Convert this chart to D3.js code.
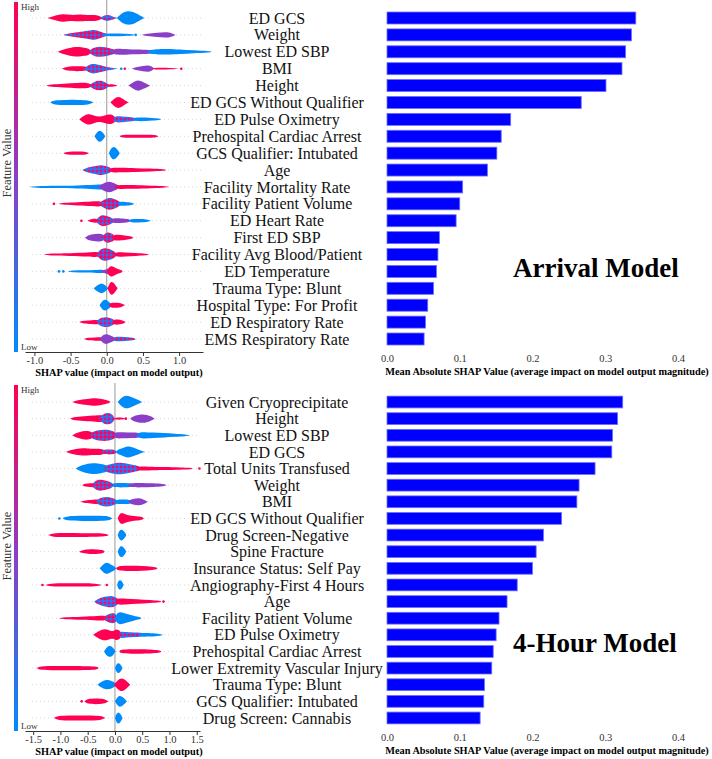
<!DOCTYPE html>
<html>
<head>
<meta charset="utf-8">
<script src="https://cdn.jsdelivr.net/npm/d3@7"></script>
<style>
  body { margin: 0; background: #fff; }
  text { font-family: "Liberation Serif", "Times New Roman", serif; }
</style>
</head>
<body>
<div id="chart"></div>
<script>
// ---------- Arrival model ----------
const arrivalFeatures = [
  "ED GCS", "Weight", "Lowest ED SBP", "BMI", "Height", "ED GCS Without Qualifier",
  "ED Pulse Oximetry", "Prehospital Cardiac Arrest", "GCS Qualifier: Intubated", "Age",
  "Facility Mortality Rate", "Facility Patient Volume", "ED Heart Rate", "First ED SBP",
  "Facility Avg Blood/Patient", "ED Temperature", "Trauma Type: Blunt",
  "Hospital Type: For Profit", "ED Respiratory Rate", "EMS Respiratory Rate"
];
const arrivalMeanAbs = [0.342, 0.336, 0.328, 0.323, 0.301, 0.267, 0.170, 0.157, 0.151, 0.138,
  0.104, 0.100, 0.095, 0.072, 0.070, 0.068, 0.064, 0.056, 0.053, 0.051];

// violin blobs per feature: [colour code, [[shap value, relative density], ...]]
// r = high value, b = low value, p = mid value, m / q = mixed (red-ish / blue-ish)
const arrivalViolins = [
  [["r", [[-0.82,0],[-0.75,.2],[-0.6,.6],[-0.5,.35],[-0.37,.5],[-0.28,.35],[-0.19,.45],[-0.1,.3],[-0.05,0]]],
   ["q", [[-0.1,0],[-0.05,.3],[0.02,.45],[0.08,.2],[0.15,0]]],
   ["b", [[0.14,0],[0.2,.6],[0.29,1],[0.4,.7],[0.48,.2],[0.52,0]]]],
  [["m", [[-0.6,0],[-0.55,.15],[-0.4,.35],[-0.25,.55],[-0.17,.7],[-0.1,.5],[-0.05,.25],[0,.15],[0.02,0]]],
   ["b", [[-0.05,.15],[0.1,.2],[0.25,.15],[0.36,.1],[0.4,0]]],
   ["p", [[0.48,0],[0.55,.15],[0.7,.3],[0.82,.4],[0.9,.25],[0.95,0]]]],
  [["r", [[-0.68,0],[-0.6,.3],[-0.42,.75],[-0.3,.5],[-0.25,.45],[-0.2,0]]],
   ["m", [[-0.25,0],[-0.2,.5],[-0.1,.75],[0,.55],[0.08,.4],[0.15,0]]],
   ["p", [[0.05,0],[0.1,.4],[0.2,.4],[0.4,.3],[0.6,.3],[0.7,0]]],
   ["b", [[0.55,0],[0.62,.3],[0.7,.35],[0.85,.4],[1.0,.3],[1.2,.2],[1.42,.1],[1.45,0]]]],
  [["r", [[-0.62,0],[-0.55,.3],[-0.4,.35],[-0.28,.3],[-0.22,0]]],
   ["q", [[-0.32,0],[-0.25,.5],[-0.19,.7],[-0.1,.5],[0,.2],[0.1,.1],[0.15,0]]],
   ["p", [[0.35,0],[0.42,.25],[0.5,.35],[0.57,.45],[0.62,.3],[0.66,0]]],
   ["r", [[0.63,0],[0.66,.12],[0.75,.12],[0.9,.1],[1.0,0]]]],
  [["r", [[-0.84,0],[-0.78,.15],[-0.6,.25],[-0.4,.35],[-0.25,.4],[-0.18,0]]],
   ["m", [[-0.25,0],[-0.18,.5],[-0.1,.7],[-0.03,.5],[0.02,.2],[0.05,0]]],
   ["r", [[0.0,0],[0.03,.2],[0.1,.15],[0.15,0]]],
   ["p", [[0.3,0],[0.36,.4],[0.43,.8],[0.5,.45],[0.6,0]]]],
  [["b", [[-0.78,0],[-0.74,.3],[-0.55,.35],[-0.4,.35],[-0.25,.3],[-0.18,0]]],
   ["r", [[0.05,0],[0.1,.5],[0.16,.85],[0.22,.5],[0.3,0]]]],
  [["r", [[-0.38,0],[-0.32,.45],[-0.26,.8],[-0.18,.5],[-0.1,.3],[-0.03,.5],[0.04,.7],[0.1,.5],[0.14,0]]],
   ["q", [[0.08,0],[0.12,.45],[0.2,.4],[0.35,.3],[0.45,0]]],
   ["b", [[0.35,0],[0.4,.3],[0.6,.2],[0.73,.1],[0.75,0]]]],
  [["b", [[-0.17,0],[-0.13,.6],[-0.1,.8],[-0.06,.6],[-0.02,0]]],
   ["r", [[0.18,0],[0.2,.2],[0.4,.2],[0.6,.2],[0.69,.15],[0.71,0]]]],
  [["r", [[-0.6,0],[-0.56,.2],[-0.4,.22],[-0.28,.2],[-0.25,0]]],
   ["b", [[0.03,0],[0.06,.7],[0.1,.9],[0.14,.6],[0.18,0]]]],
  [["q", [[-0.34,0],[-0.25,.4],[-0.12,.6],[-0.07,.7],[0.0,.5],[0.05,.35],[0.08,0]]],
   ["r", [[0.03,0],[0.06,.35],[0.2,.3],[0.4,.25],[0.6,.2],[0.8,.1],[0.82,0]]]],
  [["b", [[-1.08,0],[-1.0,.1],[-0.7,.15],[-0.4,.2],[-0.15,.3],[-0.05,.4],[0,0]]],
   ["p", [[-0.12,0],[-0.05,.5],[0.04,.8],[0.1,.5],[0.15,.3],[0.18,0]]],
   ["r", [[0.1,0],[0.14,.3],[0.3,.25],[0.55,.2],[0.8,.12],[0.86,0]]]],
  [["r", [[-0.67,0],[-0.6,.15],[-0.4,.2],[-0.2,.3],[-0.08,.4],[-0.04,0]]],
   ["m", [[-0.12,0],[-0.05,.5],[0.04,.9],[0.12,.6],[0.18,.3],[0.2,0]]],
   ["b", [[0.15,0],[0.18,.3],[0.25,.25],[0.35,.15],[0.38,0]]]],
  [["r", [[-0.27,0],[-0.2,.25],[-0.14,.3],[-0.1,0]]],
   ["m", [[-0.16,0],[-0.1,.6],[-0.05,.8],[0.02,.55],[0.08,.35],[0.1,0]]],
   ["p", [[0.05,0],[0.08,.35],[0.2,.3],[0.3,.25],[0.33,0]]],
   ["b", [[0.3,0],[0.33,.25],[0.45,.22],[0.55,.2],[0.61,0]]]],
  [["p", [[-0.3,0],[-0.25,.4],[-0.12,.55],[-0.05,.5],[-0.02,0]]],
   ["m", [[-0.08,0],[-0.04,.4],[0.0,.75],[0.06,.6],[0.1,.4],[0.12,0]]],
   ["r", [[0.08,0],[0.1,.4],[0.15,.4],[0.25,.3],[0.33,.2],[0.37,0]]]],
  [["r", [[-0.86,0],[-0.8,.15],[-0.5,.18],[-0.25,.25],[-0.12,.4],[-0.08,0]]],
   ["m", [[-0.15,0],[-0.12,.3],[-0.08,.75],[-0.02,.9],[0.05,.7],[0.12,.35],[0.14,0]]],
   ["r", [[0.1,0],[0.13,.35],[0.25,.25],[0.4,.2],[0.55,.1],[0.58,0]]]],
  [["b", [[-0.53,0],[-0.5,.15],[-0.3,.15],[-0.12,.2],[-0.05,.25],[-0.02,0]]],
   ["p", [[-0.08,0],[-0.05,.2],[0,.3],[0.03,.4],[0.05,0]]],
   ["r", [[0.0,0],[0.03,.6],[0.07,.75],[0.11,.5],[0.15,.3],[0.2,.2],[0.22,0]]]],
  [["b", [[-0.18,0],[-0.13,.45],[-0.07,.7],[-0.02,.45],[0.02,0]]],
   ["r", [[0.01,0],[0.04,.7],[0.07,.95],[0.11,.6],[0.15,0]]]],
  [["b", [[-0.1,0],[-0.06,.6],[-0.02,.8],[0.02,.5],[0.05,.3],[0.07,0]]],
   ["r", [[0.03,0],[0.05,.3],[0.1,.35],[0.2,.3],[0.25,0]]]],
  [["r", [[-0.38,0],[-0.33,.2],[-0.2,.25],[-0.12,.35],[-0.08,0]]],
   ["q", [[-0.15,0],[-0.12,.3],[-0.08,.6],[0.0,.7],[0.06,.5],[0.1,.35],[0.12,0]]],
   ["r", [[0.08,0],[0.1,.35],[0.15,.35],[0.22,.25],[0.26,0]]]],
  [["r", [[-0.31,0],[-0.27,.2],[-0.15,.2],[-0.08,.3],[-0.05,0]]],
   ["p", [[-0.1,0],[-0.08,.25],[-0.04,.6],[0.0,.7],[0.05,.45],[0.1,.3],[0.12,0]]],
   ["q", [[0.08,0],[0.1,.3],[0.2,.3],[0.3,.25],[0.38,.15],[0.4,0]]]]
];
const arrivalDots = [[3, 0.2, "b"], [3, 0.25, "r"], [3, 1.03, "r"], [11, -0.73, "r"],
  [12, -0.35, "r"], [15, -0.66, "b"], [15, -0.6, "b"], [1, 0.4, "b"]];

// ---------- 4-hour model ----------
const fourHourFeatures = [
  "Given Cryoprecipitate", "Height", "Lowest ED SBP", "ED GCS", "Total Units Transfused",
  "Weight", "BMI", "ED GCS Without Qualifier", "Drug Screen-Negative", "Spine Fracture",
  "Insurance Status: Self Pay", "Angiography-First 4 Hours", "Age", "Facility Patient Volume",
  "ED Pulse Oximetry", "Prehospital Cardiac Arrest", "Lower Extremity Vascular Injury",
  "Trauma Type: Blunt", "GCS Qualifier: Intubated", "Drug Screen: Cannabis"
];
const fourHourMeanAbs = [0.324, 0.317, 0.310, 0.309, 0.286, 0.264, 0.261, 0.240, 0.215, 0.205,
  0.200, 0.179, 0.165, 0.154, 0.150, 0.146, 0.144, 0.134, 0.133, 0.128];

const fourHourViolins = [
  [["r", [[-0.78,0],[-0.7,.25],[-0.5,.4],[-0.37,.55],[-0.25,.4],[-0.12,.2],[-0.08,0]]],
   ["b", [[0.05,0],[0.12,.6],[0.21,.95],[0.32,.6],[0.45,.2],[0.5,0]]]],
  [["r", [[-0.82,0],[-0.75,.25],[-0.5,.35],[-0.3,.45],[-0.2,.5],[-0.15,0]]],
   ["q", [[-0.3,0],[-0.25,.4],[-0.2,.7],[-0.12,.8],[-0.04,.55],[0.0,0]]],
   ["r", [[-0.02,0],[0.0,.15],[0.15,.15],[0.2,0]]],
   ["p", [[0.28,0],[0.35,.4],[0.52,.65],[0.65,.35],[0.73,0]]]],
  [["r", [[-0.78,0],[-0.7,.35],[-0.55,.65],[-0.42,.5],[-0.38,0]]],
   ["m", [[-0.45,0],[-0.42,.5],[-0.3,.7],[-0.15,.8],[0.0,.5],[0.03,0]]],
   ["p", [[-0.02,0],[0.0,.45],[0.15,.4],[0.3,.35],[0.45,.35],[0.48,0]]],
   ["b", [[0.4,0],[0.43,.35],[0.5,.45],[0.7,.35],[0.9,.3],[1.1,.2],[1.3,.12],[1.38,0]]]],
  [["r", [[-0.9,0],[-0.8,.3],[-0.58,.55],[-0.45,.4],[-0.34,.45],[-0.2,.35],[-0.17,0]]],
   ["m", [[-0.25,0],[-0.22,.3],[-0.1,.35],[0.0,.3],[0.04,0]]],
   ["b", [[0.02,0],[0.05,.3],[0.1,.4],[0.17,.6],[0.24,.8],[0.33,.6],[0.43,.3],[0.55,0]]]],
  [["b", [[-0.72,0],[-0.6,.5],[-0.4,.8],[-0.25,.6],[-0.15,.5],[-0.12,0]]],
   ["q", [[-0.2,0],[-0.17,.5],[0.0,.7],[0.09,.8],[0.2,.7],[0.35,.45],[0.46,.3],[0.48,0]]],
   ["r", [[0.4,0],[0.43,.3],[0.6,.25],[0.9,.2],[1.2,.15],[1.4,.1],[1.42,0]]]],
  [["r", [[-0.6,0],[-0.55,.2],[-0.45,.25],[-0.38,.3],[-0.35,0]]],
   ["m", [[-0.42,0],[-0.4,.3],[-0.35,.6],[-0.28,.8],[-0.15,.6],[-0.05,.35],[-0.02,0]]],
   ["b", [[-0.05,0],[-0.03,.3],[0.1,.3],[0.3,.3],[0.32,0]]],
   ["p", [[0.25,0],[0.28,.3],[0.5,.3],[0.7,.25],[0.9,.15],[0.95,0]]]],
  [["r", [[-0.63,0],[-0.55,.2],[-0.4,.25],[-0.3,.35],[-0.27,0]]],
   ["q", [[-0.35,0],[-0.32,.3],[-0.25,.55],[-0.15,.7],[-0.05,.5],[0.03,.3],[0.05,0]]],
   ["b", [[0.0,0],[0.02,.3],[0.15,.3],[0.28,.3],[0.3,0]]],
   ["p", [[0.25,0],[0.28,.3],[0.35,.4],[0.43,.5],[0.52,.35],[0.6,0]]]],
  [["b", [[-0.96,0],[-0.9,.3],[-0.6,.35],[-0.3,.35],[-0.1,.3],[-0.05,0]]],
   ["r", [[0.05,0],[0.08,.5],[0.12,.85],[0.2,.5],[0.3,.35],[0.4,.3],[0.5,.2],[0.53,0]]]],
  [["r", [[-1.22,0],[-1.15,.25],[-0.9,.28],[-0.6,.25],[-0.3,.25],[-0.15,.15],[-0.12,0]]],
   ["b", [[0.05,0],[0.08,.6],[0.12,.8],[0.17,.5],[0.21,0]]]],
  [["r", [[-0.66,0],[-0.6,.2],[-0.45,.35],[-0.35,.3],[-0.22,.25],[-0.19,0]]],
   ["b", [[0.05,0],[0.08,.6],[0.12,.8],[0.17,.5],[0.21,0]]]],
  [["b", [[-0.28,0],[-0.22,.5],[-0.15,.85],[-0.08,.5],[0.0,.25],[0.02,0]]],
   ["r", [[0.02,0],[0.05,.3],[0.2,.35],[0.4,.35],[0.6,.3],[0.76,.15],[0.78,0]]]],
  [["r", [[-1.27,0],[-1.2,.2],[-0.9,.22],[-0.6,.22],[-0.35,.2],[-0.24,0]]],
   ["b", [[0.04,0],[0.06,.5],[0.09,.7],[0.13,.5],[0.16,0]]]],
  [["q", [[-0.38,0],[-0.3,.45],[-0.15,.7],[-0.06,.8],[0.0,.6],[0.05,.45],[0.07,0]]],
   ["r", [[0.0,0],[0.03,.45],[0.2,.4],[0.4,.3],[0.65,.2],[0.83,.1],[0.85,0]]]],
  [["r", [[-1.02,0],[-0.95,.15],[-0.6,.2],[-0.3,.3],[-0.18,.35],[-0.15,0]]],
   ["m", [[-0.2,0],[-0.18,.35],[-0.1,.6],[-0.05,.7],[0.02,.6],[0.04,0]]],
   ["b", [[0.0,0],[0.03,.6],[0.09,.9],[0.2,.6],[0.35,.3],[0.46,.15],[0.48,0]]]],
  [["r", [[-0.4,0],[-0.3,.5],[-0.18,.85],[-0.08,.5],[-0.02,.5],[0.03,.8],[0.1,.5],[0.13,0]]],
   ["q", [[0.08,0],[0.1,.5],[0.2,.35],[0.4,.3],[0.5,.28],[0.52,0]]],
   ["b", [[0.45,0],[0.48,.28],[0.6,.25],[0.8,.15],[0.89,0]]]],
  [["b", [[-0.2,0],[-0.15,.6],[-0.09,.8],[-0.03,.5],[0.01,0]]],
   ["r", [[0.08,0],[0.1,.25],[0.3,.3],[0.5,.3],[0.7,.25],[0.83,.15],[0.85,0]]]],
  [["r", [[-1.43,0],[-1.38,.25],[-1.1,.28],[-0.8,.28],[-0.5,.25],[-0.32,.2],[-0.3,0]]],
   ["b", [[0.0,0],[0.03,.55],[0.06,.7],[0.1,.55],[0.14,0]]]],
  [["b", [[-0.32,0],[-0.25,.4],[-0.15,.7],[-0.06,.5],[0.0,.3],[0.02,0]]],
   ["r", [[-0.02,0],[0.05,.6],[0.12,.95],[0.2,.6],[0.28,0]]]],
  [["r", [[-0.56,0],[-0.5,.35],[-0.35,.4],[-0.2,.35],[-0.12,0]]],
   ["b", [[0.0,0],[0.05,.6],[0.09,.8],[0.15,.55],[0.22,0]]]],
  [["r", [[-1.12,0],[-1.05,.3],[-0.8,.35],[-0.5,.33],[-0.25,.3],[-0.18,0]]],
   ["b", [[0.0,0],[0.03,.6],[0.06,.8],[0.1,.6],[0.14,0]]]]
];
const fourHourDots = [[4, 1.55, "r"], [7, -1.02, "b"], [11, -1.33, "r"], [11, -0.15, "r"],
  [12, 0.89, "r"], [18, -0.61, "r"], [1, 0.2, "r"]];

const arrivalTicks = [-1.0, -0.5, 0.0, 0.5, 1.0];
const fourHourTicks = [-1.5, -1.0, -0.5, 0.0, 0.5, 1.0, 1.5];
const barTicks = [0.0, 0.1, 0.2, 0.3, 0.4];

// ---------- drawing ----------
const width = 712, height = 759;
const RED = "#ff0052", BLUE = "#008bfb", PURPLE = "#8b3fc6";

const svg = d3.select("#chart").append("svg")
  .attr("width", width)
  .attr("height", height);

const defs = svg.append("defs");

// colour bar gradient
const grad = defs.append("linearGradient")
  .attr("id", "cbar")
  .attr("x1", 0).attr("y1", 0).attr("x2", 0).attr("y2", 1);
grad.append("stop").attr("offset", "0%").attr("stop-color", RED);
grad.append("stop").attr("offset", "50%").attr("stop-color", PURPLE);
grad.append("stop").attr("offset", "100%").attr("stop-color", BLUE);

// speckled patterns for mixed red/blue regions
function mixPattern(id, base, redSpot, blueSpot) {
  const p = defs.append("pattern")
    .attr("id", id)
    .attr("width", 4).attr("height", 4)
    .attr("patternUnits", "userSpaceOnUse");
  p.append("rect").attr("width", 4).attr("height", 4).attr("fill", base);
  p.append("circle").attr("cx", redSpot[0]).attr("cy", redSpot[1]).attr("r", 1).attr("fill", RED);
  p.append("circle").attr("cx", blueSpot[0]).attr("cy", blueSpot[1]).attr("r", 1).attr("fill", BLUE);
}
mixPattern("mixR", "#b8289c", [1, 1], [3, 3]);
mixPattern("mixB", "#6a52d8", [1, 3], [3, 1]);

const fills = { r: RED, b: BLUE, p: PURPLE, m: "url(#mixR)", q: "url(#mixB)" };

function drawPanel(p) {
  const g = svg.append("g");

  const y = d3.scaleBand()
    .domain(p.features)
    .range(p.rowRange)
    .paddingInner(0.29)
    .paddingOuter(0.145);
  const cy = f => y(f) + y.bandwidth() / 2;

  const x = d3.scaleLinear().domain(p.shapDomain).range([25, p.shapRight]);
  const dens = d3.scaleLinear().domain([0, 1]).range([0, 7.5]);
  const xb = d3.scaleLinear().domain([0, 0.4]).range([387, 678]);

  // colour bar + labels
  g.append("rect")
    .attr("x", 14).attr("y", p.top + 2)
    .attr("width", 4).attr("height", p.axisY - p.top - 2)
    .attr("fill", "url(#cbar)");
  g.append("text").attr("x", 21).attr("y", p.top + 10)
    .attr("font-size", 9).attr("fill", "#333").text("High");
  g.append("text").attr("x", 21).attr("y", p.axisY - 2)
    .attr("font-size", 9).attr("fill", "#333").text("Low");
  g.append("text")
    .attr("transform", `translate(11,${p.top + 163}) rotate(-90)`)
    .attr("text-anchor", "middle")
    .attr("font-size", 12.5)
    .attr("fill", "#333")
    .text("Feature Value");

  // dotted row guides
  g.selectAll(".guide")
    .data(p.features)
    .join("line")
    .attr("class", "guide")
    .attr("x1", 32).attr("x2", p.shapRight)
    .attr("y1", d => cy(d)).attr("y2", d => cy(d))
    .attr("stroke", "#cfcfcf")
    .attr("stroke-width", 0.8)
    .attr("stroke-dasharray", "1,3");

  // zero line
  g.append("line")
    .attr("x1", x(0)).attr("x2", x(0))
    .attr("y1", p.top).attr("y2", p.axisY)
    .attr("stroke", "#999")
    .attr("stroke-width", 1);

  // violins
  p.violins.forEach((blobs, i) => {
    const yc = cy(p.features[i]);
    const area = d3.area()
      .x(d => x(d[0]))
      .y0(d => yc - dens(d[1]))
      .y1(d => yc + dens(d[1]))
      .curve(d3.curveBasis);
    g.selectAll(null)
      .data(blobs)
      .join("path")
      .attr("d", d => area(d[1]))
      .attr("fill", d => fills[d[0]]);
  });

  g.selectAll(".dot")
    .data(p.dots)
    .join("circle")
    .attr("class", "dot")
    .attr("cx", d => x(d[1]))
    .attr("cy", d => cy(p.features[d[0]]))
    .attr("r", 1.3)
    .attr("fill", d => fills[d[2]]);

  // shap axis
  const ax = g.append("g")
    .attr("transform", `translate(0,${p.axisY})`)
    .call(d3.axisBottom(x)
      .tickValues(p.ticks)
      .tickFormat(d => d.toFixed(1))
      .tickSize(4)
      .tickSizeOuter(0));
  ax.select(".domain").attr("stroke", "#333");
  ax.selectAll(".tick line").attr("stroke", "#333");
  ax.selectAll(".tick text")
    .attr("font-family", "Liberation Serif, serif")
    .attr("font-size", 10.5)
    .attr("fill", "#333")
    .attr("dy", null)
    .attr("y", 12);

  g.append("text")
    .attr("x", 119).attr("y", p.axisY + 24)
    .attr("text-anchor", "middle")
    .attr("font-size", 10.3)
    .attr("font-weight", "bold")
    .text("SHAP value (impact on model output)");

  // feature names
  g.selectAll(".fname")
    .data(p.features)
    .join("text")
    .attr("class", "fname")
    .attr("x", 277)
    .attr("y", d => cy(d))
    .attr("dy", "0.35em")
    .attr("text-anchor", "middle")
    .attr("font-size", 16)
    .attr("fill", "#111")
    .text(d => d);

  // mean |SHAP| bars
  g.selectAll(".bar")
    .data(p.features)
    .join("rect")
    .attr("class", "bar")
    .attr("x", xb(0))
    .attr("y", d => y(d))
    .attr("width", (d, i) => xb(p.meanAbs[i]) - xb(0))
    .attr("height", y.bandwidth())
    .attr("fill", "#0000ff")
    .attr("stroke", "#6f6fff")
    .attr("stroke-width", 0.8);

  const bx = g.append("g")
    .attr("transform", `translate(0,${p.axisY})`)
    .call(d3.axisBottom(xb)
      .tickValues(barTicks)
      .tickFormat(d => d.toFixed(1))
      .tickSize(0));
  bx.select(".domain").remove();
  bx.selectAll(".tick text")
    .attr("font-family", "Liberation Serif, serif")
    .attr("font-size", 10.5)
    .attr("fill", "#333")
    .attr("dy", null)
    .attr("y", 10);

  g.append("text")
    .attr("x", 547).attr("y", p.axisY + 22.5)
    .attr("text-anchor", "middle")
    .attr("font-size", 10.3)
    .attr("font-weight", "bold")
    .text("Mean Absolute SHAP Value (average impact on model output magnitude)");

  // model title
  g.append("text")
    .attr("x", 513).attr("y", p.titleY)
    .attr("font-size", 27)
    .attr("font-weight", "bold")
    .text(p.title);
}

drawPanel({
  features: arrivalFeatures,
  meanAbs: arrivalMeanAbs,
  violins: arrivalViolins,
  dots: arrivalDots,
  ticks: arrivalTicks,
  rowRange: [9.55, 347.45],
  shapDomain: [-1.13, 1.33],
  shapRight: 203,
  top: 0,
  axisY: 352,
  title: "Arrival Model",
  titleY: 277
});

drawPanel({
  features: fourHourFeatures,
  meanAbs: fourHourMeanAbs,
  violins: fourHourViolins,
  dots: fourHourDots,
  ticks: fourHourTicks,
  rowRange: [393.7, 726.3],
  shapDomain: [-1.65, 1.56],
  shapRight: 200,
  top: 383,
  axisY: 731,
  title: "4-Hour Model",
  titleY: 652
});
</script>
</body>
</html>
